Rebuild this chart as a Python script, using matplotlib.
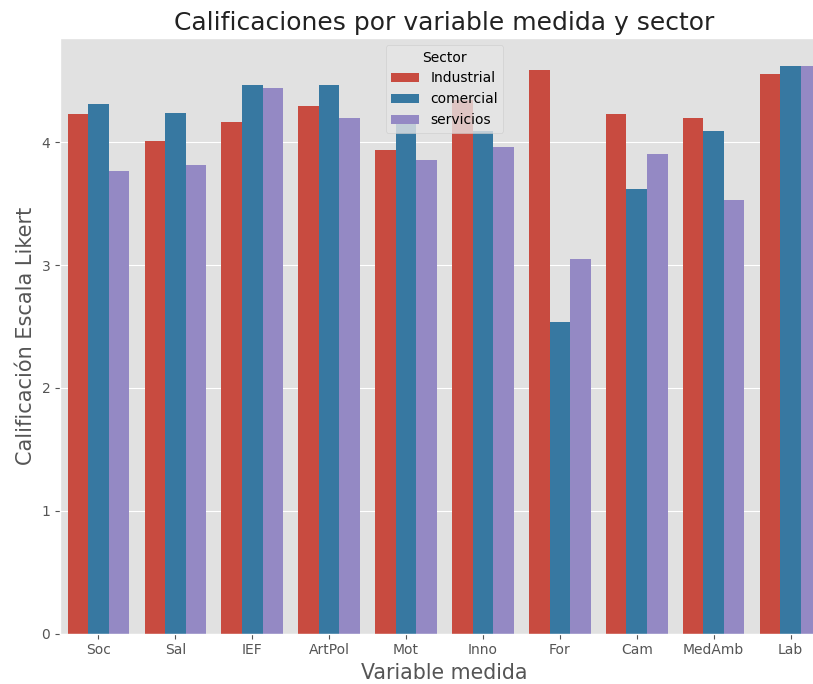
import numpy as np
import pandas as pd
import matplotlib
matplotlib.use('Agg')
import matplotlib.pyplot as plt
import seaborn as sns

# variables medidas y promedios por sector (escala Likert)
variables = ['Soc', 'Sal', 'IEF', 'ArtPol', 'Mot', 'Inno', 'For', 'Cam', 'MedAmb', 'Lab']
sectores = ['Industrial', 'comercial', 'servicios']

industrial = [4.23, 4.01, 4.17, 4.30, 3.94, 4.35, 4.59, 4.23, 4.20, 4.56]
comercial = [4.31, 4.24, 4.47, 4.47, 4.17, 4.09, 2.54, 3.62, 4.09, 4.62]
servicios = [3.77, 3.82, 4.44, 4.20, 3.86, 3.96, 3.05, 3.91, 3.53, 4.62]

colores = ['#C84B40', '#3778A1', '#9489C4']


def build_frame():
    rows = []
    for sec, vals in zip(sectores, [industrial, comercial, servicios]):
        for var, v in zip(variables, vals):
            rows.append({'Variable medida': var, 'Sector': sec, 'Calificacion': v})
    return pd.DataFrame(rows)


df = build_frame()

plt.style.use('ggplot')
W, H = 813, 684
fig = plt.figure(figsize=(W / 100, H / 100), dpi=100)
# axes runs a bit past the right edge, like the cropped original
ax = fig.add_axes([60 / W, (H - 633.5) / H, 769 / W, (633.5 - 38) / H])
ax.set_facecolor('#E1E1E1')

sns.barplot(data=df, x='Variable medida', y='Calificacion', hue='Sector',
            hue_order=sectores, order=variables, errorbar=None, ax=ax,
            palette=colores, saturation=1)

ax.set_xlim(-0.5, len(variables) - 0.5)
ax.set_title('Calificaciones por variable medida y sector', fontsize=18, color='#222222')
ax.set_xlabel('Variable medida', fontsize=14.8, color='#555555')
ax.set_ylabel('Calificación Escala Likert', fontsize=15, color='#555555')
ax.tick_params(labelsize=10)
ax.legend(title='Sector', loc='upper center', fontsize=10, title_fontsize=10)

fig.savefig('out.png', dpi=100)
